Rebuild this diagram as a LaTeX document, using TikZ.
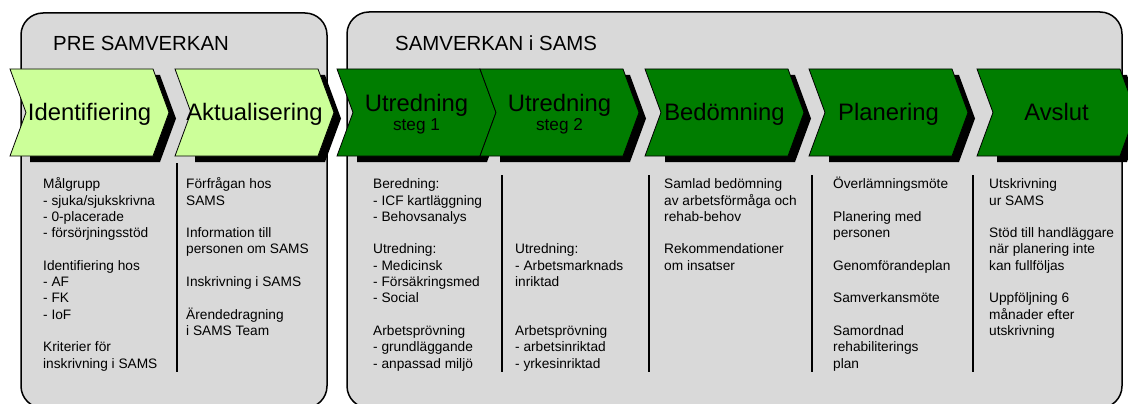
\documentclass[tikz,border=0pt]{standalone}
\usepackage{fontspec}
\setmainfont{Liberation Sans}
\definecolor{dgreen}{RGB}{0,125,0}
\definecolor{lgreen}{RGB}{204,255,153}
\definecolor{panelgray}{RGB}{217,217,217}
\newcommand{\mychev}[2]{%
  \fill[black] ({#1+20},75) -- ({#1+150},75) -- ({#1+166},118.5) -- ({#1+150},162) -- ({#1+20},162) -- cycle;
  \draw[chevline, fill=#2] (#1,69) -- ({#1+143},69) -- ({#1+159},112.5) -- ({#1+143},156) -- (#1,156) -- ({#1+16},112.5) -- cycle;}
\newcommand{\blankline}{\mbox{}}
\begin{document}
\begin{tikzpicture}[x=1pt,y=-1pt,
  panel/.style={draw=black, line width=1.5pt, fill=panelgray, rounded corners=22pt},
  chevline/.style={draw=black, line width=0.8pt},
  head/.style={anchor=base, inner sep=0pt, font=\fontsize{23.8}{28}\selectfont},
  subhead/.style={anchor=base, inner sep=0pt, font=\fontsize{17.2}{20}\selectfont},
  paneltitle/.style={anchor=base west, inner sep=0pt, font=\fontsize{20.4}{24}\selectfont},
  col/.style={anchor=north west, inner sep=0pt, align=left, font=\fontsize{13.7}{16.3}\selectfont},
  divider/.style={line width=2pt, draw=black}]
\useasboundingbox (0,0) rectangle (1128,404);
\clip (0,0) rectangle (1128,404);
% panels
\draw[panel] (21,13) rectangle (327,408);
\draw[panel] (347,12) rectangle (1122,408);
\node[paneltitle] (pretitle) at (53,50.7) {PRE SAMVERKAN};
\node[paneltitle] (samstitle) at (395,50.5) {SAMVERKAN i SAMS};
% chevrons
\mychev{10}{lgreen}
\mychev{175}{lgreen}
\mychev{337}{dgreen}
\mychev{480}{dgreen}
\mychev{645}{dgreen}
\mychev{809}{dgreen}
\mychev{977}{dgreen}
\node[head] (identifiering) at (89.5,121) {Identifiering};
\node[head] (aktualisering) at (254.5,121) {Aktualisering};
\node[head] (utr1) at (416.5,111.5) {Utredning};
\node[subhead] (steg1) at (416.5,131) {steg 1};
\node[head] (utr2) at (559.5,111.5) {Utredning};
\node[subhead] (steg2) at (559.5,131) {steg 2};
\node[head] (bedomning) at (724.5,121) {Bedömning};
\node[head] (planering) at (888.5,121) {Planering};
\node[head] (avslut) at (1056.5,121) {Avslut};
% dividers
\draw[divider] (177,163) -- (177,372);
\draw[divider] (502,175) -- (502,372);
\draw[divider] (649,175) -- (649,372);
\draw[divider] (812,175) -- (812,372);
\draw[divider] (973,175) -- (973,372);
% columns
\node[col] (c1) at (43,175.5) {\rule{0pt}{13pt}Målgrupp\\- sjuka/sjukskrivna\\- 0-placerade\\- försörjningsstöd\\\blankline\\Identifiering hos\\- AF\\- FK\\- IoF\\\blankline\\Kriterier för\\inskrivning i SAMS};
\node[col] (c2) at (186,175.5) {\rule{0pt}{13pt}Förfrågan hos\\SAMS\\\blankline\\Information till\\personen om SAMS\\\blankline\\Inskrivning i SAMS\\\blankline\\Ärendedragning\\i SAMS Team};
\node[col] (c3) at (373,175.5) {\rule{0pt}{13pt}Beredning:\\- ICF kartläggning\\- Behovsanalys\\\blankline\\Utredning:\\- Medicinsk\\- Försäkringsmed\\- Social\\\blankline\\Arbetsprövning\\- grundläggande\\- anpassad miljö};
\node[col] (c4) at (515,240.7) {\rule{0pt}{13pt}Utredning:\\- Arbetsmarknads\\inriktad\\\blankline\\\blankline\\Arbetsprövning\\- arbetsinriktad\\- yrkesinriktad};
\node[col] (c5) at (664,175.5) {\rule{0pt}{13pt}Samlad bedömning\\av arbetsförmåga och\\rehab-behov\\\blankline\\Rekommendationer\\om insatser};
\node[col] (c6) at (833,175.5) {\rule{0pt}{13pt}Överlämningsmöte\\\blankline\\Planering med\\personen\\\blankline\\Genomförandeplan\\\blankline\\Samverkansmöte\\\blankline\\Samordnad\\rehabiliterings\\plan};
\node[col] (c7) at (989,175.5) {\rule{0pt}{13pt}Utskrivning\\ur SAMS\\\blankline\\Stöd till handläggare\\när planering inte\\kan fullföljas\\\blankline\\Uppföljning 6\\månader efter\\utskrivning};
\end{tikzpicture}
\end{document}
